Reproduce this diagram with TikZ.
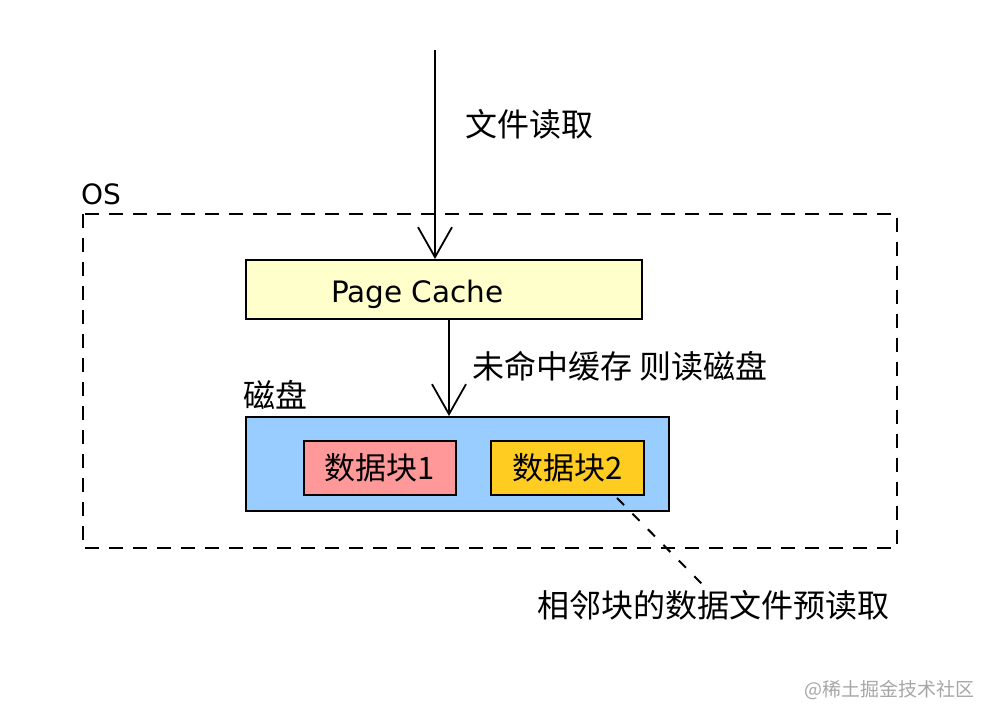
\documentclass[tikz,border=0pt]{standalone}
\usepackage{fontspec}
\setmainfont{Noto Sans CJK SC}
\newfontfamily\latinfont{DejaVu Sans}
\usetikzlibrary{arrows.meta,calc}
\definecolor{pcyellow}{HTML}{FFFFCC}
\definecolor{diskblue}{HTML}{99CCFF}
\definecolor{blkred}{HTML}{FF9999}
\definecolor{blkyellow}{HTML}{FFCC22}
\begin{document}
\begin{tikzpicture}[x=1pt,y=-1pt,
  box/.style={draw=black,line width=2pt,inner sep=0pt,anchor=north west},
  cjk/.style={font=\fontsize{32}{34}\selectfont,inner sep=0pt},
  blk/.style={box,font=\fontsize{31}{33}\selectfont,minimum height=54pt},
  arr/.style={line width=1.8pt,-{Straight Barb[length=30pt,width=34pt,line width=1.8pt]}},
  osframe/.style={line width=2pt,dash pattern=on 14pt off 10pt},
  hint/.style={line width=2pt,dash pattern=on 10pt off 12pt}]
\useasboundingbox (0,0) rectangle (982,708);
% OS frame
\draw[osframe] (83,214) rectangle (897,548);
\node[font=\latinfont\fontsize{28}{30}\selectfont,inner sep=0pt,anchor=south west] (os) at (81,205) {OS};
% Page Cache
\node[box,fill=pcyellow,minimum width=396pt,minimum height=59pt] (pc) at (245,259)
  {\makebox[396pt][l]{\hspace{85pt}\raisebox{-5pt}[\height][\depth]{\latinfont\fontsize{29.5}{31}\selectfont Page Cache}}};
% top arrow
\coordinate (src) at (435,50);
\draw[arr] (src) -- (src |- pc.north);
\node[cjk,anchor=west] (read) at (465,124) {文件读取};
% disk
\node[cjk,anchor=south west] (disklbl) at (243,410) {磁盘};
\node[box,fill=diskblue,minimum width=423pt,minimum height=94pt] (disk) at (245,416) {};
\node[blk,fill=blkred,minimum width=152pt] (b1) at (303,440)
  {\makebox[152pt]{数据块1}};
\node[blk,fill=blkyellow,minimum width=153pt] (b2) at (490,440)
  {\makebox[153pt]{数据块2}};
% second arrow
\draw[arr] ($(pc.south west)+(204,0)$) -- ($(disk.north west)+(204,0)$);
\node[cjk,anchor=west] (miss) at (472,366) {未命中缓存 则读磁盘};
% prefetch hint
\node[cjk,anchor=west] (pre) at (537,605) {相邻块的数据文件预读取};
\coordinate (hintend) at (702,584);
\draw[hint] ($(b2.south west)+(127,2)$) -- (hintend);
% watermark
\node[font=\fontsize{19}{20}\selectfont,text=black!35,inner sep=0pt,anchor=east] (wm) at (975,690) {@稀土掘金技术社区};
\end{tikzpicture}
\end{document}
